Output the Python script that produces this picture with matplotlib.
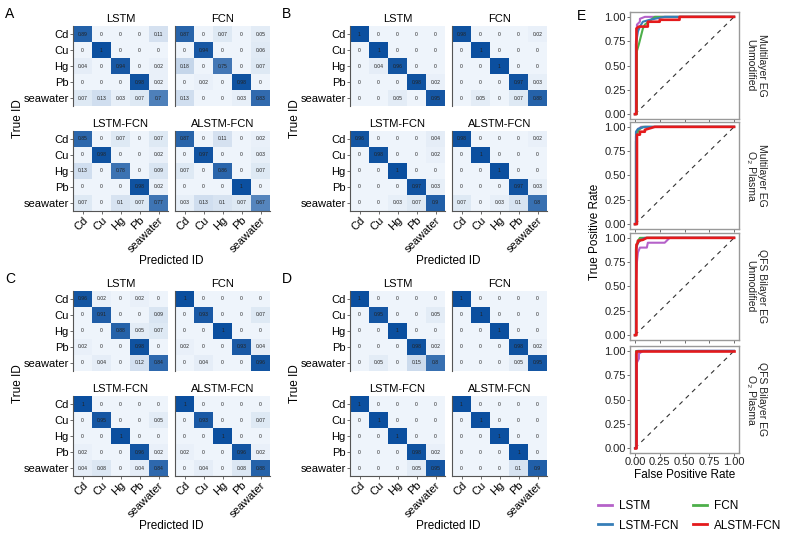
import numpy as np
import matplotlib
matplotlib.use("Agg")
import matplotlib.pyplot as plt
from matplotlib.colors import LinearSegmentedColormap
from matplotlib.lines import Line2D

plt.rcParams["font.family"] = ["Liberation Sans", "DejaVu Sans"]

classes = ["Cd", "Cu", "Hg", "Pb", "seawater"]
models = ["LSTM", "FCN", "LSTM-FCN", "ALSTM-FCN"]

# confusion matrices, rows = true ID, cols = predicted ID
cm_A = {
    "LSTM": [[0.89, 0, 0, 0, 0.11], [0, 1, 0, 0, 0], [0.04, 0, 0.94, 0, 0.02],
             [0, 0, 0, 0.98, 0.02], [0.07, 0.13, 0.03, 0.07, 0.7]],
    "FCN": [[0.87, 0, 0.07, 0, 0.05], [0, 0.94, 0, 0, 0.06], [0.18, 0, 0.75, 0, 0.07],
            [0, 0.02, 0, 0.98, 0], [0.13, 0, 0, 0.03, 0.83]],
    "LSTM-FCN": [[0.85, 0, 0.07, 0, 0.07], [0, 0.98, 0, 0, 0.02], [0.13, 0, 0.78, 0, 0.09],
                 [0, 0, 0, 0.98, 0.02], [0.07, 0, 0.1, 0.07, 0.77]],
    "ALSTM-FCN": [[0.87, 0, 0.11, 0, 0.02], [0, 0.97, 0, 0, 0.03], [0.07, 0, 0.86, 0, 0.07],
                  [0, 0, 0, 1, 0], [0.03, 0.13, 0.1, 0.07, 0.67]],
}
cm_B = {
    "LSTM": [[1, 0, 0, 0, 0], [0, 1, 0, 0, 0], [0, 0.04, 0.96, 0, 0],
             [0, 0, 0, 0.98, 0.02], [0, 0, 0.05, 0, 0.95]],
    "FCN": [[0.98, 0, 0, 0, 0.02], [0, 1, 0, 0, 0], [0, 0, 1, 0, 0],
            [0, 0, 0, 0.97, 0.03], [0, 0.05, 0, 0.07, 0.88]],
    "LSTM-FCN": [[0.96, 0, 0, 0, 0.04], [0, 0.98, 0, 0, 0.02], [0, 0, 1, 0, 0],
                 [0, 0, 0, 0.97, 0.03], [0, 0, 0.03, 0.07, 0.9]],
    "ALSTM-FCN": [[0.98, 0, 0, 0, 0.02], [0, 1, 0, 0, 0], [0, 0, 1, 0, 0],
                  [0, 0, 0, 0.97, 0.03], [0.07, 0, 0.03, 0.1, 0.8]],
}
cm_C = {
    "LSTM": [[0.96, 0.02, 0, 0.02, 0], [0, 0.91, 0, 0, 0.09], [0, 0, 0.88, 0.05, 0.07],
             [0.02, 0, 0, 0.98, 0], [0, 0.04, 0, 0.12, 0.84]],
    "FCN": [[1, 0, 0, 0, 0], [0, 0.93, 0, 0, 0.07], [0, 0, 1, 0, 0],
            [0.02, 0, 0, 0.93, 0.04], [0, 0.04, 0, 0, 0.96]],
    "LSTM-FCN": [[1, 0, 0, 0, 0], [0, 0.95, 0, 0, 0.05], [0, 0, 1, 0, 0],
                 [0.02, 0, 0, 0.96, 0.02], [0.04, 0.08, 0, 0.04, 0.84]],
    "ALSTM-FCN": [[1, 0, 0, 0, 0], [0, 0.93, 0, 0, 0.07], [0, 0, 1, 0, 0],
                  [0.02, 0, 0, 0.96, 0.02], [0, 0.04, 0, 0.08, 0.88]],
}
cm_D = {
    "LSTM": [[1, 0, 0, 0, 0], [0, 0.95, 0, 0, 0.05], [0, 0, 1, 0, 0],
             [0, 0, 0, 0.98, 0.02], [0, 0.05, 0, 0.15, 0.8]],
    "FCN": [[1, 0, 0, 0, 0], [0, 1, 0, 0, 0], [0, 0, 1, 0, 0],
            [0, 0, 0, 0.98, 0.02], [0, 0, 0, 0.05, 0.95]],
    "LSTM-FCN": [[1, 0, 0, 0, 0], [0, 1, 0, 0, 0], [0, 0, 1, 0, 0],
                 [0, 0, 0, 0.98, 0.02], [0, 0, 0, 0.05, 0.95]],
    "ALSTM-FCN": [[1, 0, 0, 0, 0], [0, 1, 0, 0, 0], [0, 0, 1, 0, 0],
                  [0, 0, 0, 1, 0], [0, 0, 0, 0.1, 0.9]],
}

# ROC curves: (fpr, tpr) per model
roc_ml_unmod = {
    "LSTM": ([0, 0.01, 0.01, 0.02, 0.02, 0.05, 0.05, 0.1, 1],
             [0, 0, 0.75, 0.8, 0.92, 0.95, 0.98, 1, 1]),
    "FCN": ([0, 0.02, 0.02, 0.04, 0.06, 0.08, 0.1, 0.15, 0.2, 1],
            [0, 0, 0.65, 0.72, 0.8, 0.88, 0.92, 0.96, 1, 1]),
    "LSTM-FCN": ([0, 0.01, 0.01, 0.03, 0.05, 0.08, 0.15, 0.3, 1],
                 [0, 0, 0.72, 0.85, 0.9, 0.95, 0.97, 1, 1]),
    "ALSTM-FCN": ([0, 0.015, 0.015, 0.04, 0.13, 0.13, 0.25, 0.25, 0.45, 0.45, 1],
                  [0, 0, 0.88, 0.9, 0.9, 0.95, 0.95, 0.97, 0.97, 1, 1]),
}
roc_ml_o2 = {
    "LSTM": ([0, 0.01, 0.01, 0.03, 0.06, 1], [0, 0, 0.9, 0.97, 1, 1]),
    "FCN": ([0, 0.01, 0.01, 0.02, 0.04, 0.08, 1], [0, 0, 0.85, 0.93, 0.97, 1, 1]),
    "LSTM-FCN": ([0, 0.01, 0.01, 0.03, 0.1, 1], [0, 0, 0.95, 0.98, 1, 1]),
    "ALSTM-FCN": ([0, 0.02, 0.02, 0.05, 0.05, 0.1, 0.1, 0.2, 1],
                  [0, 0, 0.92, 0.92, 0.95, 0.95, 0.97, 1, 1]),
}
roc_qfs_unmod = {
    "LSTM": ([0, 0.01, 0.01, 0.02, 0.03, 0.05, 0.12, 0.13, 0.3, 0.35, 1],
             [0, 0, 0.55, 0.75, 0.85, 0.9, 0.9, 0.95, 0.95, 1, 1]),
    "FCN": ([0, 0.01, 0.01, 0.03, 0.05, 1], [0, 0, 0.9, 0.97, 1, 1]),
    "LSTM-FCN": ([0, 0.01, 0.01, 0.03, 0.06, 0.1, 1], [0, 0, 0.88, 0.95, 0.98, 1, 1]),
    "ALSTM-FCN": ([0, 0.015, 0.015, 0.03, 0.03, 0.08, 0.12, 1],
                  [0, 0, 0.93, 0.95, 0.97, 0.98, 1, 1]),
}
roc_qfs_o2 = {
    "LSTM": ([0, 0.02, 0.02, 0.04, 0.04, 0.08, 1], [0, 0, 0.88, 0.92, 0.97, 1, 1]),
    "FCN": ([0, 0.01, 0.01, 1], [0, 0, 1, 1]),
    "LSTM-FCN": ([0, 0.01, 0.01, 0.03, 1], [0, 0, 0.97, 1, 1]),
    "ALSTM-FCN": ([0, 0.015, 0.015, 1], [0, 0, 1, 1]),
}
roc_facets = [
    ("Multilayer EG\nUnmodified", roc_ml_unmod),
    ("Multilayer EG\nO\u2082 Plasma", roc_ml_o2),
    ("QFS Bilayer EG\nUnmodified", roc_qfs_unmod),
    ("QFS Bilayer EG\nO\u2082 Plasma", roc_qfs_o2),
]
model_colors = {"LSTM": "#B562C9", "FCN": "#4DAF4A",
                "LSTM-FCN": "#377EB8", "ALSTM-FCN": "#E41A1C"}

W, H = 785, 537
fig = plt.figure(figsize=(W / 100, H / 100), dpi=100)


def px_axes(x, y, w, h):
    return fig.add_axes([x / W, 1 - (y + h) / H, w / W, h / H])


cmap = LinearSegmentedColormap.from_list("cm", ["#EEF4FB", "#0B4F9F"], N=256)


def draw_cm(ax, mat, title, first_col, bottom_row):
    m = np.array(mat, dtype=float)
    ax.imshow(m, cmap=cmap, vmin=0, vmax=1, aspect="auto")
    for i in range(5):
        for j in range(5):
            ax.text(j, i, f"{m[i, j]:g}", ha="center", va="center",
                    fontsize=3.6, color="#222222")
    ax.set_title(title, fontsize=8, pad=3)
    for s in ["top", "right"]:
        ax.spines[s].set_visible(False)
    ax.spines["left"].set_color("#555555")
    ax.spines["bottom"].set_color("#555555")
    ax.spines["bottom"].set_visible(bottom_row)
    ax.tick_params(length=2, width=0.6, colors="#555555", labelcolor="black", labelsize=8, pad=1)
    ax.set_yticks(range(5))
    ax.set_yticklabels(classes if first_col else [])
    if not first_col:
        ax.tick_params(axis="y", length=0)
    ax.set_xticks(range(5))
    if bottom_row:
        ax.set_xticklabels(classes, rotation=45, ha="right", rotation_mode="anchor")
    else:
        ax.set_xticklabels([])
        ax.tick_params(axis="x", length=0)


panels = [("A", cm_A, 73, 26), ("B", cm_B, 350, 26), ("C", cm_C, 73, 291), ("D", cm_D, 350, 291)]
mw, mh, gap_x, gap_y = 95, 80, 7, 25
for letter, cms, x0, y0 in panels:
    for k, name in enumerate(models):
        col, row = k % 2, k // 2
        ax = px_axes(x0 + col * (mw + gap_x), y0 + row * (mh + gap_y), mw, mh)
        draw_cm(ax, cms[name], name, col == 0, row == 1)
    fig.text((x0 - 68) / W, 1 - (y0 - 12) / H, letter, fontsize=10, ha="left", va="center")
    fig.text((x0 - 55) / W, 1 - (y0 + mh + gap_y / 2) / H, "True ID",
             rotation=90, fontsize=8.5, ha="center", va="center")
    fig.text((x0 + mw + gap_x / 2) / W, 1 - (y0 + 2 * mh + gap_y + 50) / H, "Predicted ID",
             fontsize=8.5, ha="center", va="center")

# panel E: ROC facets
roc_x, roc_w = 630, 109
roc_tops = [12, 122, 233, 346]
roc_h = 107
for k, (strip, data) in enumerate(roc_facets):
    ax = px_axes(roc_x, roc_tops[k], roc_w, roc_h)
    ax.plot([0, 1], [0, 1], ls=(0, (4, 4)), color="#333333", lw=0.8)
    for name in models:
        fpr, tpr = data[name]
        ax.plot(fpr, tpr, color=model_colors[name],
                lw=1.9 if name == "ALSTM-FCN" else 1.5)
    ax.set_xlim(-0.05, 1.05)
    ax.set_ylim(-0.05, 1.05)
    ticks = [0, 0.25, 0.5, 0.75, 1.0]
    ax.set_xticks(ticks)
    ax.set_yticks(ticks)
    ax.set_yticklabels(["0.00", "0.25", "0.50", "0.75", "1.00"])
    if k == 3:
        ax.set_xticklabels(["0.00", "0.25", "0.50", "0.75", "1.00"])
        ax.set_xlabel("False Positive Rate", fontsize=8.5, labelpad=1)
    else:
        ax.set_xticklabels([])
        ax.tick_params(axis="x", length=0)
    for s in ax.spines.values():
        s.set_color("#999999")
        s.set_linewidth(1.0)
    ax.tick_params(length=2, width=0.6, colors="#555555", labelcolor="#222222", labelsize=8, pad=1)
    ax.text(1.06, 0.5, strip, transform=ax.transAxes, rotation=-90, fontsize=7.5,
            ha="left", va="center", multialignment="center", color="#222222")

fig.text(577 / W, 1 - 16 / H, "E", fontsize=10, ha="left", va="center")
fig.text(595 / W, 1 - 232 / H, "True Positive Rate", rotation=90, fontsize=8.5,
         ha="center", va="center")

order = ["LSTM", "LSTM-FCN", "FCN", "ALSTM-FCN"]
handles = [Line2D([0], [0], color=model_colors[n], lw=2) for n in order]
fig.legend(handles, order, ncol=2, loc="center", bbox_to_anchor=(690 / W, 1 - 516 / H),
           frameon=False, fontsize=8.5, handlelength=1.2, columnspacing=1.2,
           handletextpad=0.6, labelspacing=0.6)

fig.savefig("out.png", dpi=100)
